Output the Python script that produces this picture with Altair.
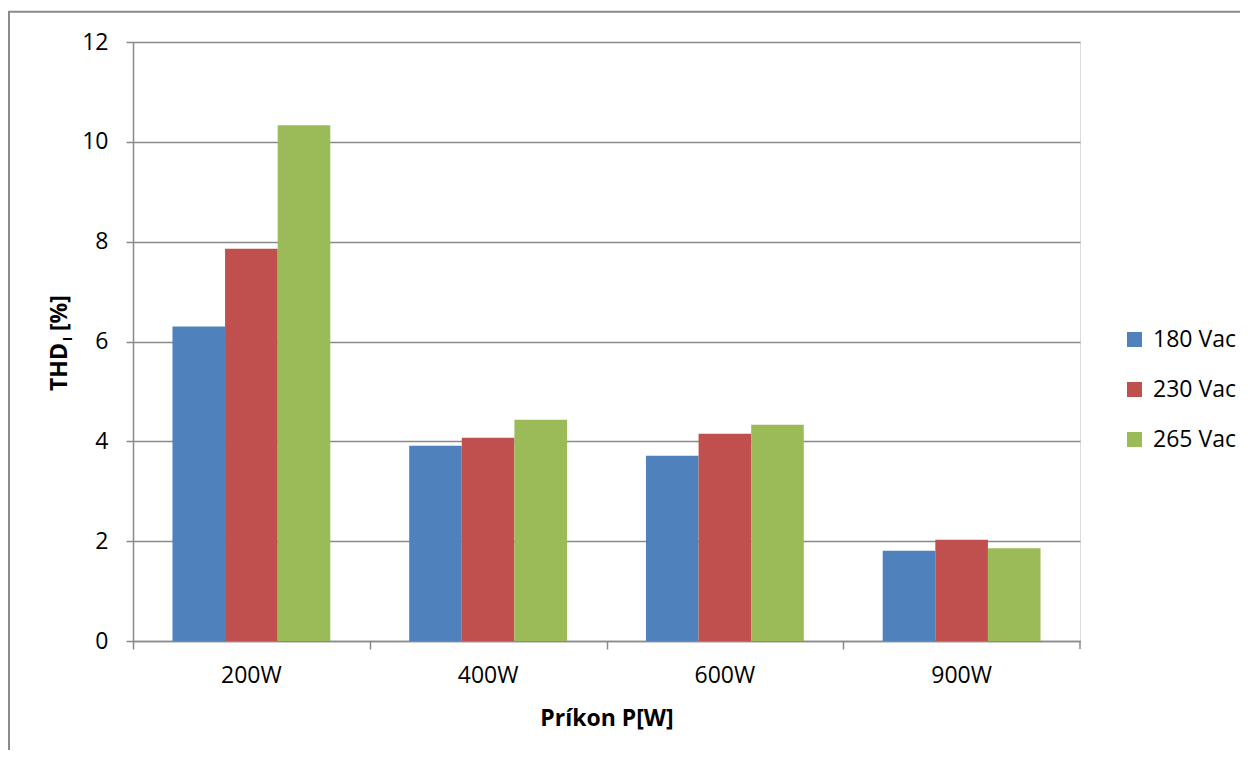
import altair as alt
import pandas as pd

categories = ["200W", "400W", "600W", "900W"]
series = ["180 Vac", "230 Vac", "265 Vac"]
v180 = [6.30, 3.91, 3.71, 1.81]
v230 = [7.86, 4.07, 4.15, 2.03]
v265 = [10.33, 4.43, 4.33, 1.86]
colors = ["#4F81BD", "#C0504D", "#9BBB59"]
y_ticks = [0, 2, 4, 6, 8, 10, 12]

rows = []
for s, vals in zip(series, [v180, v230, v265]):
    for c, v in zip(categories, vals):
        rows.append({"power": c, "voltage": s, "thd": v})
df = pd.DataFrame(rows)

W, H = 947, 599
FONT = "Open Sans"
FS = 23
GRAY = "#8a8a8a"
STEP = W / len(categories)

xscale = alt.Scale(domain=categories, paddingInner=1 / 3, paddingOuter=1 / 6)

bars = alt.Chart(df).mark_bar().encode(
    x=alt.X(
        "power:N",
        scale=xscale,
        sort=categories,
        axis=alt.Axis(
            labels=False,
            bandPosition=0,
            tickOffset=-STEP / 6,
            tickSize=8,
            tickColor=GRAY,
            tickWidth=1.5,
            domainColor=GRAY,
            domainWidth=1.5,
            grid=False,
            title="Príkon P[W]",
            titleFont=FONT,
            titleFontSize=FS,
            titleFontWeight="bold",
            titleColor="black",
            titleY=84,
            titleBaseline="alphabetic",
        ),
    ),
    xOffset=alt.XOffset("voltage:N", sort=series, scale=alt.Scale(paddingInner=0, paddingOuter=0)),
    y=alt.Y(
        "thd:Q",
        scale=alt.Scale(domain=[0, 12], nice=False),
        axis=alt.Axis(
            values=y_ticks,
            title=None,
            grid=True,
            gridColor=GRAY,
            gridWidth=1.5,
            tickSize=7,
            tickColor=GRAY,
            tickWidth=1.5,
            domainColor=GRAY,
            domainWidth=1.5,
            labelFont=FONT,
            labelFontSize=FS,
            labelColor="black",
            labelPadding=18,
        ),
    ),
    color=alt.Color(
        "voltage:N",
        sort=series,
        scale=alt.Scale(domain=series, range=colors),
        legend=alt.Legend(
            title=None,
            orient="none",
            legendX=990,
            legendY=286,
            symbolType="square",
            symbolSize=225,
            symbolStrokeWidth=0,
            symbolOpacity=1,
            labelFont=FONT,
            labelFontSize=FS,
            labelColor="black",
            labelOffset=7,
            rowPadding=26,
        ),
    ),
)

xlabels = alt.Chart(pd.DataFrame({"power": categories})).mark_text(
    font=FONT, fontSize=FS, baseline="alphabetic", color="black"
).encode(
    x=alt.X("power:N", scale=xscale, sort=categories),
    y=alt.value(H + 42),
    text="power:N",
)

ytitle_main = alt.Chart(pd.DataFrame({"t": ["THD"]})).mark_text(
    font=FONT, fontSize=FS, fontWeight="bold", angle=270, align="right",
    baseline="alphabetic", color="black"
).encode(x=alt.value(-66), y=alt.value(301), text="t:N")

ytitle_sub = alt.Chart(pd.DataFrame({"t": ["I"]})).mark_text(
    font=FONT, fontSize=13, fontWeight="bold", angle=270, align="center",
    baseline="alphabetic", color="black"
).encode(x=alt.value(-61), y=alt.value(297), text="t:N")

ytitle_unit = alt.Chart(pd.DataFrame({"t": ["[%]"]})).mark_text(
    font=FONT, fontSize=FS, fontWeight="bold", angle=270, align="left",
    baseline="alphabetic", color="black"
).encode(x=alt.value(-66), y=alt.value(289), text="t:N")

one = pd.DataFrame({"k": [0]})
border_top = alt.Chart(one).mark_rule(color=GRAY, strokeWidth=2).encode(
    x=alt.value(-125), x2=alt.value(W + 200), y=alt.value(-30.3)
)
border_left = alt.Chart(one).mark_rule(color=GRAY, strokeWidth=2).encode(
    x=alt.value(-124), y=alt.value(-31), y2=alt.value(H + 200)
)
end_tick = alt.Chart(one).mark_rule(color=GRAY, strokeWidth=1.5).encode(
    x=alt.value(W), y=alt.value(H), y2=alt.value(H + 8)
)

chart = alt.layer(
    bars, xlabels, ytitle_main, ytitle_sub, ytitle_unit, border_top, border_left, end_tick
).properties(
    width=W,
    height=H,
    autosize=alt.AutoSizeParams(type="none"),
    padding={"left": 125, "top": 34, "right": 160, "bottom": 109},
).configure_view(stroke=None).configure(background="white")

chart.save("out.html", embed_options={"renderer": "svg", "actions": False})
